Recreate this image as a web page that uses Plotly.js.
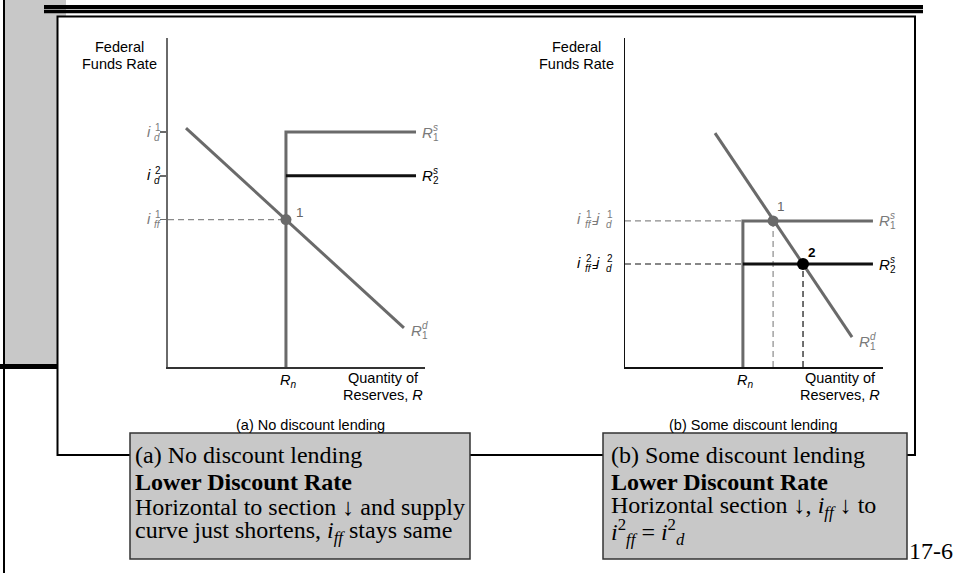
<!DOCTYPE html>
<html><head><meta charset="utf-8">
<script src="https://cdn.plot.ly/plotly-3.0.1.min.js"></script>
<style>html,body{margin:0;padding:0;background:#fff}#chart{width:960px;height:573px}</style>
</head><body><div id="chart"></div>
<script>
// ---------- data: panel (a) No discount lending ----------
const demandA_q = [0.70, 9.18];
const demandA_i = [7.26, 1.19];
const supply1A_q = [4.59, 4.59, 9.65];
const supply1A_i = [0, 7.14, 7.14];
const supply2A_q = [4.59, 9.65];
const supply2A_i = [5.81, 5.81];
const eqA_q = [4.59];
const eqA_i = [4.48];
const ticksA_i = [7.14, 5.81, 4.48];

// ---------- data: panel (b) Some discount lending ----------
const demandB_q = [3.49, 8.80];
const demandB_i = [7.11, 0.91];
const supply1B_q = [4.57, 4.57, 9.61];
const supply1B_i = [0, 4.44, 4.44];
const supply2B_q = [4.57, 9.61];
const supply2B_i = [3.13, 3.13];
const eqB_q = [5.74, 6.90];
const eqB_i = [4.44, 3.13];

const W = 960, H = 573;
const px = v => v / W;
const py = v => 1 - v / H;
const SANS = 'Liberation Sans, Arial, sans-serif';
const SERIF = 'Liberation Serif, Times New Roman, serif';
const GRAY = '#6a6a6a';
const GTXT = '#7a7a7a';

const traces = [];
function addLine(ax, q, i, color, width, dash) {
  traces.push({type: 'scatter', mode: 'lines', x: q, y: i, xaxis: 'x' + ax, yaxis: 'y' + ax,
    line: {color: color, width: width, dash: dash || 'solid'}, hoverinfo: 'skip'});
}
function addPts(ax, q, i, color, size) {
  traces.push({type: 'scatter', mode: 'markers', x: q, y: i, xaxis: 'x' + ax, yaxis: 'y' + ax,
    marker: {color: color, size: size}, hoverinfo: 'skip'});
}
// panel a
addLine('', [0, eqA_q[0]], [eqA_i[0], eqA_i[0]], '#8a8a8a', 1.2, '6px,4px');
addLine('', supply1A_q, supply1A_i, GRAY, 3);
addLine('', supply2A_q, supply2A_i, '#111', 3);
addLine('', demandA_q, demandA_i, GRAY, 3);
addPts('', eqA_q, eqA_i, GRAY, 11);
// panel b
addLine('2', [0, supply1B_q[0]], [eqB_i[0], eqB_i[0]], '#8a8a8a', 1.2, '6px,4px');
addLine('2', [0, supply1B_q[0]], [eqB_i[1], eqB_i[1]], '#111', 1.2, '6px,4px');
addLine('2', [eqB_q[0], eqB_q[0]], [0, eqB_i[0]], '#8a8a8a', 1.2, '6px,4px');
addLine('2', [eqB_q[1], eqB_q[1]], [0, eqB_i[1]], '#111', 1.2, '6px,4px');
addLine('2', supply1B_q, supply1B_i, GRAY, 3);
addLine('2', supply2B_q, supply2B_i, '#111', 3);
addLine('2', demandB_q, demandB_i, GRAY, 3);
addPts('2', [eqB_q[0]], [eqB_i[0]], GRAY, 11);
addPts('2', [eqB_q[1]], [eqB_i[1]], '#000', 12);

// ---------- annotations ----------
const ann = [];
function T(text, xref, x, yref, y, size, color, xanchor, xshift, yshift, family) {
  ann.push({text: text, xref: xref, x: x, yref: yref, y: y, showarrow: false,
    xanchor: xanchor || 'center', yanchor: 'middle', xshift: xshift || 0, yshift: yshift || 0,
    font: {family: family || SANS, size: size, color: color || '#000'}, align: 'left'});
}
// R with stacked superscript/subscript, left-anchored after a point
function Rlabel(ax, q, i, sup, sub, color, dx, dy) {
  T('<i>R</i>', 'x' + ax, q, 'y' + ax, i, 15, color, 'left', dx, dy);
  T('<i>' + sup + '</i>', 'x' + ax, q, 'y' + ax, i, 10, color, 'left', dx + 11, dy + 5);
  T(sub, 'x' + ax, q, 'y' + ax, i, 10, color, 'left', dx + 11, dy - 5);
}
// axis titles
[['', 119], ['2', 576]].forEach(function (p) {
  T('Federal', 'paper', px(p[1]), 'paper', py(47), 14.5, '#000');
  T('Funds Rate', 'paper', px(p[1]), 'paper', py(64), 14.5, '#000');
});
T('<i>R</i><sub><i>n</i></sub>', 'x', eqA_q[0], 'paper', py(381), 14.5, '#000', 'center', 2);
T('<i>R</i><sub><i>n</i></sub>', 'x2', supply1B_q[0], 'paper', py(381), 14.5, '#000', 'center', 2);
T('Quantity of', 'paper', px(383), 'paper', py(378), 14.5, '#000');
T('Reserves, <i>R</i>', 'paper', px(383), 'paper', py(395), 14.5, '#000');
T('Quantity of', 'paper', px(840), 'paper', py(378), 14.5, '#000');
T('Reserves, <i>R</i>', 'paper', px(840), 'paper', py(395), 14.5, '#000');
T('(a) No discount lending', 'paper', px(310), 'paper', py(425), 14.5, '#000');
T('(b) Some discount lending', 'paper', px(753), 'paper', py(425), 14.5, '#000');

// curve labels
Rlabel('', supply1A_q[2], supply1A_i[2], 's', '1', GTXT, 4, 0);
Rlabel('', supply2A_q[1], supply2A_i[1], 's', '2', '#000', 4, 0);
Rlabel('', demandA_q[1], demandA_i[1], 'd', '1', GTXT, 5, -3);
Rlabel('2', supply1B_q[2], supply1B_i[2], 's', '1', GTXT, 4, 0);
Rlabel('2', supply2B_q[1], supply2B_i[1], 's', '2', '#000', 4, 0);
Rlabel('2', demandB_q[1], demandB_i[1], 'd', '1', GTXT, 5, -4);

// equilibrium labels
T('1', 'x', eqA_q[0], 'y', eqA_i[0], 13.5, '#666', 'center', 14, 7);
T('1', 'x2', eqB_q[0], 'y2', eqB_i[0], 13.5, '#666', 'center', 8, 14);
T('<b>2</b>', 'x2', eqB_q[1], 'y2', eqB_i[1], 13.5, '#000', 'center', 9, 12);

// panel a tick labels
const tickA_sup = ['1', '2', '1'];
const tickA_sub = ['d', 'd', 'ff'];
const tickA_col = [GTXT, '#000', GTXT];
ticksA_i.forEach(function (v, k) {
  T('<i>i</i>', 'x', 0, 'y', v, 15, tickA_col[k], 'right', -15.5, 1);
  T(tickA_sup[k], 'x', 0, 'y', v, 10, tickA_col[k], 'left', -15, 5);
  T('<i>' + tickA_sub[k] + '</i>', 'x', 0, 'y', v, 10, tickA_col[k], 'left', -16, -5);
});
// panel b tick labels  i_ff^k = i_d^k
const tickB_sup = ['1', '2'];
const tickB_col = [GTXT, '#000'];
eqB_i.forEach(function (v, k) {
  T('<i>i</i>', 'x2', 0, 'y2', v, 15, tickB_col[k], 'right', -42, 2);
  T(tickB_sup[k], 'x2', 0, 'y2', v, 10, tickB_col[k], 'left', -41, 6);
  T('<i>ff</i>', 'x2', 0, 'y2', v, 10, tickB_col[k], 'left', -42, -4);
  T('=', 'x2', 0, 'y2', v, 10, tickB_col[k], 'left', -35.5, -3);
  T('<i>i</i>', 'x2', 0, 'y2', v, 15, tickB_col[k], 'right', -23, 2);
  T(tickB_sup[k], 'x2', 0, 'y2', v, 10, tickB_col[k], 'left', -20, 6);
  T('<i>d</i>', 'x2', 0, 'y2', v, 10, tickB_col[k], 'left', -21, -4);
});

// slide text boxes
const boxA_lines = ['(a) No discount lending', '<b>Lower Discount Rate</b>',
  'Horizontal to section \u2193 and supply', 'curve just shortens, <i>i</i><sub><i>ff</i></sub> stays same'];
const boxB_lines = ['(b) Some discount lending', '<b>Lower Discount Rate</b>',
  'Horizontal section \u2193, <i>i</i><sub><i>ff</i></sub> \u2193 to',
  '<i>i</i><sup>2</sup><sub><i>ff</i></sub> = <i>i</i><sup>2</sup><sub><i>d</i></sub>'];
const lineY = [455, 481.5, 507, 531.5];
boxA_lines.forEach(function (s, k) { T(s, 'paper', px(133), 'paper', py(lineY[k]), 24, '#000', 'left', 0, 0, SERIF); });
boxB_lines.forEach(function (s, k) { T(s, 'paper', px(609), 'paper', py(lineY[k]), 24, '#000', 'left', 0, 0, SERIF); });
T('17-6', 'paper', px(907), 'paper', py(551), 24, '#000', 'left', 0, 0, SERIF);

// ---------- slide decoration shapes ----------
function rect(x0, y0, x1, y1, fill, lc, lw) {
  return {type: 'rect', xref: 'paper', yref: 'paper', x0: px(x0), x1: px(x1), y0: py(y1), y1: py(y0),
    fillcolor: fill, line: {color: lc || 'rgba(0,0,0,0)', width: lw || 0}, layer: 'below'};
}
const shapes = [
  rect(5, 0, 66, 366, '#c8c8c8'),
  rect(3, 0, 5, 573, '#000'),
  rect(0, 364, 58, 369, '#000'),
  rect(44, 5, 923, 9.3, '#000'),
  rect(44, 10, 923, 13.3, '#000'),
  rect(57.5, 16.5, 915, 455, '#fff', '#000', 2),
  rect(130, 433, 470, 559, '#c8c8c8', '#333', 1.5),
  rect(603, 433, 907, 559, '#c8c8c8', '#333', 1.5)
];

const axBase = {range: [0, 10], showgrid: false, zeroline: false, showticklabels: false,
  ticks: '', showline: true, fixedrange: true};
const layout = {
  width: W, height: H, margin: {l: 0, r: 0, t: 0, b: 0},
  paper_bgcolor: '#fff', plot_bgcolor: 'rgba(0,0,0,0)', showlegend: false,
  xaxis: Object.assign({}, axBase, {domain: [px(168), px(425)], anchor: 'y', linecolor: '#333', linewidth: 1.5}),
  yaxis: Object.assign({}, axBase, {domain: [py(367), py(38)], anchor: 'x', linecolor: GRAY, linewidth: 2,
    tickmode: 'array', tickvals: ticksA_i, ticks: 'outside', ticklen: 6, tickwidth: 1.5, tickcolor: GRAY}),
  xaxis2: Object.assign({}, axBase, {domain: [px(625), px(883)], anchor: 'y2', linecolor: '#111', linewidth: 1.5}),
  yaxis2: Object.assign({}, axBase, {domain: [py(367), py(38)], anchor: 'x2', linecolor: '#111', linewidth: 1.5}),
  shapes: shapes, annotations: ann
};
Plotly.newPlot('chart', traces, layout, {staticPlot: true, displayModeBar: false});
</script></body></html>
